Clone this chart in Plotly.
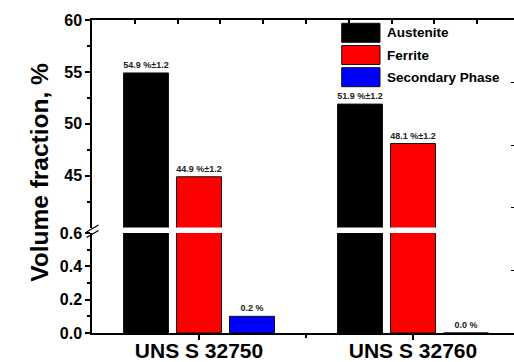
import plotly.graph_objects as go

# ---- data ----
categories = ["UNS S 32750", "UNS S 32760"]
phases = ["Austenite", "Ferrite", "Secondary Phase"]
austenite = [54.9, 51.9]
ferrite = [44.9, 48.1]
secondary = [0.1, 0.0]
austenite_labels = ["54.9 %±1.2", "51.9 %±1.2"]
ferrite_labels = ["44.9 %±1.2", "48.1 %±1.2"]
secondary_labels = ["0.2 %", "0.0 %"]
phase_colors = ["#000000", "#ff0000", "#0000ff"]

lower_ticks = [0.0, 0.2, 0.4, 0.6]
lower_minor = [0.1, 0.3, 0.5]
upper_ticks = [45, 50, 55, 60]
upper_minor = [42.5, 47.5, 52.5, 57.5]
y_title = "Volume fraction, %"

FONT = "Liberation Sans, Arial, sans-serif"
values = [austenite, ferrite, secondary]
labels = [austenite_labels, ferrite_labels, secondary_labels]
xpos = list(range(len(categories)))

fig = go.Figure()
label_font = dict(family=FONT, size=9, color="#222222", weight="bold")
for i, name in enumerate(phases):
    # upper (broken) segment
    fig.add_trace(go.Bar(
        x=xpos, y=values[i], name=name, xaxis="x", yaxis="y2",
        marker=dict(color=phase_colors[i], line=dict(color="#111111", width=1)),
        text=labels[i] if i < 2 else None, textposition="outside",
        constraintext="none", textfont=label_font, showlegend=False,
    ))
    # lower segment
    fig.add_trace(go.Bar(
        x=xpos, y=values[i], name=name, xaxis="x", yaxis="y",
        marker=dict(color=phase_colors[i], line=dict(color="#111111", width=1)),
        text=labels[i] if i == 2 else None, textposition="outside",
        constraintext="none", textfont=label_font, showlegend=False,
    ))

# dummy traces so that the decorative top / right axes are drawn
fig.add_trace(go.Scatter(x=[None], y=[None], xaxis="x2", yaxis="y2",
                         showlegend=False, hoverinfo="skip"))
fig.add_trace(go.Scatter(x=[None], y=[None], xaxis="x", yaxis="y3",
                         showlegend=False, hoverinfo="skip"))

xr = [-0.5, 1.472]
axis_common = dict(showgrid=False, zeroline=False, showline=True,
                   linecolor="black", linewidth=1.5, tickcolor="black",
                   tickwidth=1.5, automargin=False)
lo_top = 0.3195
up_bot = 0.3367

fig.update_layout(
    width=514, height=362,
    margin=dict(l=92, r=0, t=20, b=29),
    paper_bgcolor="white", plot_bgcolor="rgba(0,0,0,0)",
    font=dict(family=FONT, color="black", weight="bold"),
    barmode="group", bargap=0.257, bargroupgap=0.152,
    showlegend=False,
    xaxis=dict(**axis_common, range=xr, anchor="y",
               tickvals=xpos, ticktext=categories, ticks="outside", ticklen=5,
               ticklabelstandoff=-7,
               tickfont=dict(size=21, family=FONT, weight="bold"),
               minor=dict(tickvals=[0.5], ticks="outside", ticklen=3,
                          tickcolor="black", tickwidth=1.5)),
    xaxis2=dict(**axis_common, range=xr, anchor="y2", overlaying="x",
                side="top", ticks="inside", ticklen=4,
                tickvals=[-0.3, -0.1, 0.1, 0.3, 0.5, 0.7, 0.9, 1.1, 1.3],
                showticklabels=False),
    yaxis=dict(**axis_common, domain=[0, lo_top], range=[0, 0.6], anchor="x",
               tickvals=lower_ticks, tickformat=".1f", ticks="outside", ticklen=5,
               tickfont=dict(size=16, family=FONT, weight="bold"),
               minor=dict(tickvals=lower_minor, ticks="outside", ticklen=3,
                          tickcolor="black", tickwidth=1.5)),
    yaxis2=dict(**axis_common, domain=[up_bot, 1], range=[40, 60], anchor="x",
                tickvals=upper_ticks, ticks="outside", ticklen=5,
                tickfont=dict(size=16, family=FONT, weight="bold"),
                minor=dict(tickvals=upper_minor, ticks="outside", ticklen=3,
                           tickcolor="black", tickwidth=1.5)),
    yaxis3=dict(showgrid=False, zeroline=False, showline=False, automargin=False,
                domain=[0, 1], range=[0, 1], anchor="free", position=1,
                side="right", ticks="inside", ticklen=3, tickwidth=1,
                tickcolor="black", tickvals=[0.2, 0.4, 0.6, 0.8],
                showticklabels=False),
)

# axis title
fig.add_annotation(text=y_title, xref="paper", yref="paper", x=-0.163, y=0.514,
                   textangle=-90, showarrow=False,
                   font=dict(size=24.5, family=FONT, weight="bold"))

# axis-break marks
W, H = 422.0, 313.0
def px(xp, yp):
    return (xp - 92) / W, (333 - yp) / H
for dy in (0, 5.5):
    x0, y0 = px(86.5, 232.0 + dy)
    x1, y1 = px(98.5, 225.0 + dy)
    fig.add_shape(type="line", xref="paper", yref="paper",
                  x0=x0, y0=y0, x1=x1, y1=y1,
                  line=dict(color="black", width=1.3))

# legend (large swatches)
for i, name in enumerate(phases):
    top = 23.3 + i * 22.2
    x0, y1 = px(341.7, top)
    x1, y0 = px(380.0, top + 19.0)
    fig.add_shape(type="rect", xref="paper", yref="paper",
                  x0=x0, y0=y0, x1=x1, y1=y1,
                  fillcolor=phase_colors[i], line=dict(color="#111111", width=1))
    tx, ty = px(385.0, top + 9.5)
    fig.add_annotation(text=name, xref="paper", yref="paper", x=tx, y=ty,
                       xanchor="left", yanchor="middle", showarrow=False,
                       font=dict(size=13.5, family=FONT, weight="bold"))

fig.write_html("out.html", config={"displayModeBar": False},
               post_script="document.body.style.margin='0';"
                           "document.body.style.overflow='hidden';")
